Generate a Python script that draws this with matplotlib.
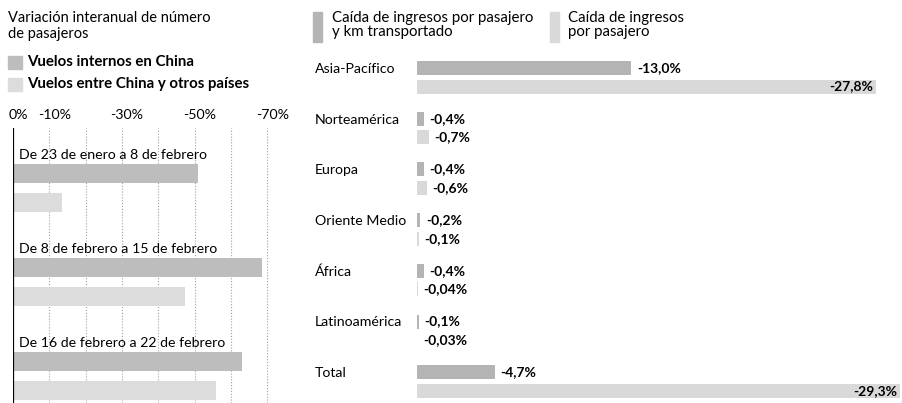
import matplotlib.pyplot as plt
import matplotlib.transforms as mtransforms
from matplotlib.patches import Rectangle

plt.rcParams['font.family'] = ['Lato', 'DejaVu Sans']

# left panel: year-on-year change in passengers
periodos = ['De 23 de enero a 8 de febrero',
            'De 8 de febrero a 15 de febrero',
            'De 16 de febrero a 22 de febrero']
internos = [-51.0, -68.5, -63.0]
internacionales = [-13.5, -47.5, -56.0]
ticks_izq = [0, -10, -30, -50, -70]
grid_izq = [-10, -20, -30, -40, -50, -60, -70]

# right panel: revenue loss by region
regiones = ['Asia-Pacífico', 'Norteamérica', 'Europa', 'Oriente Medio',
            'África', 'Latinoamérica', 'Total']
ingresos_km = [-13.0, -0.4, -0.4, -0.2, -0.4, -0.1, -4.7]
ingresos_pas = [-27.8, -0.7, -0.6, -0.1, -0.04, -0.03, -29.3]

c_dark_l = '#bdbdbd'
c_light_l = '#dcdcdc'
c_dark_r = '#b4b4b4'
c_light_r = '#d9d9d9'

W, H = 902, 403
fig = plt.figure(figsize=(W / 100, H / 100), dpi=100)


def box(l, t, r, b):
    return [l / W, 1 - b / H, (r - l) / W, (b - t) / H]


def fx(x):
    return x / W


def fy(y):
    return 1 - y / H


# ---------- left ----------
ax = fig.add_axes(box(13, 128, 285, 403))
ax.set_xlim(0, -74.9)
ax.set_ylim(275, 0)
for v in grid_izq:
    ax.axvline(v, color='#a0a0a0', lw=0.8, ls=(0, (1, 1.6)), zorder=0)
ax.axvline(0, color='black', lw=1.6, zorder=3)

step = 94
for i, p in enumerate(periodos):
    ax.barh(45 + step * i, internos[i], height=19, color=c_dark_l, zorder=1)
    ax.barh(74 + step * i, internacionales[i], height=19, color=c_light_l, zorder=1)
    ax.annotate(p, (0, 27 + step * i), xytext=(4, 0), textcoords='offset points',
                ha='left', va='center', fontsize=10.2, zorder=4)

ax.xaxis.tick_top()
ax.set_xticks(ticks_izq)
ax.set_xticklabels([f'{t}%' for t in ticks_izq], fontsize=10.2)
ax.tick_params(axis='x', length=0, pad=5)
off = mtransforms.ScaledTranslation(5 / 100, 0, fig.dpi_scale_trans)
for lab in ax.get_xticklabels():
    lab.set_transform(lab.get_transform() + off)
ax.set_yticks([])
for s in ax.spines.values():
    s.set_visible(False)

fig.text(fx(8), fy(26), 'Variación interanual de número\nde pasajeros',
         ha='left', va='center', fontsize=10.5, linespacing=1.1)
fig.patches.append(Rectangle((fx(8), fy(69)), 14 / W, 13 / H,
                             transform=fig.transFigure, color=c_dark_l))
fig.patches.append(Rectangle((fx(8), fy(91)), 14 / W, 13 / H,
                             transform=fig.transFigure, color=c_light_l))
fig.text(fx(27), fy(62), 'Vuelos internos en China', ha='left', va='center',
         fontsize=10.8, fontweight='bold')
fig.text(fx(27), fy(84), 'Vuelos entre China y otros países', ha='left',
         va='center', fontsize=10.8, fontweight='bold')

# ---------- right ----------
ax2 = fig.add_axes(box(417, 50, 902, 403))
ax2.set_xlim(0, -29.4)
ax2.set_ylim(353, 0)
ax2.axis('off')

row = 50.7
lbl_tr = mtransforms.blended_transform_factory(fig.transFigure, ax2.transData)


def fmt(v):
    return str(v).replace('.', ',') + '%'


for i, reg in enumerate(regiones):
    y1 = 18 + row * i
    y2 = y1 + 18.5
    ax2.barh(y1, ingresos_km[i], height=14, color=c_dark_r)
    ax2.barh(y2, ingresos_pas[i], height=14, color=c_light_r)
    ax2.text(fx(315), y1 + 1, reg, transform=lbl_tr, ha='left', va='center',
             fontsize=10.2)
    for v, y in ((ingresos_km[i], y1), (ingresos_pas[i], y2)):
        if abs(v) > 20:
            ax2.annotate(fmt(v), (v, y), xytext=(-2, 0), textcoords='offset points',
                         ha='right', va='center', fontsize=10, fontweight='bold')
        else:
            ax2.annotate(fmt(v), (v, y), xytext=(4, 0), textcoords='offset points',
                         ha='left', va='center', fontsize=10, fontweight='bold')

fig.patches.append(Rectangle((fx(313), fy(42)), 9 / W, 30 / H,
                             transform=fig.transFigure, color=c_dark_r))
fig.patches.append(Rectangle((fx(550), fy(42)), 9 / W, 30 / H,
                             transform=fig.transFigure, color=c_light_r))
fig.text(fx(332), fy(25), 'Caída de ingresos por pasajero\ny km transportado',
         ha='left', va='center', fontsize=10.8, linespacing=0.95)
fig.text(fx(568), fy(25), 'Caída de ingresos\npor pasajero',
         ha='left', va='center', fontsize=10.8, linespacing=0.95)

fig.savefig('out.png', dpi=100)
